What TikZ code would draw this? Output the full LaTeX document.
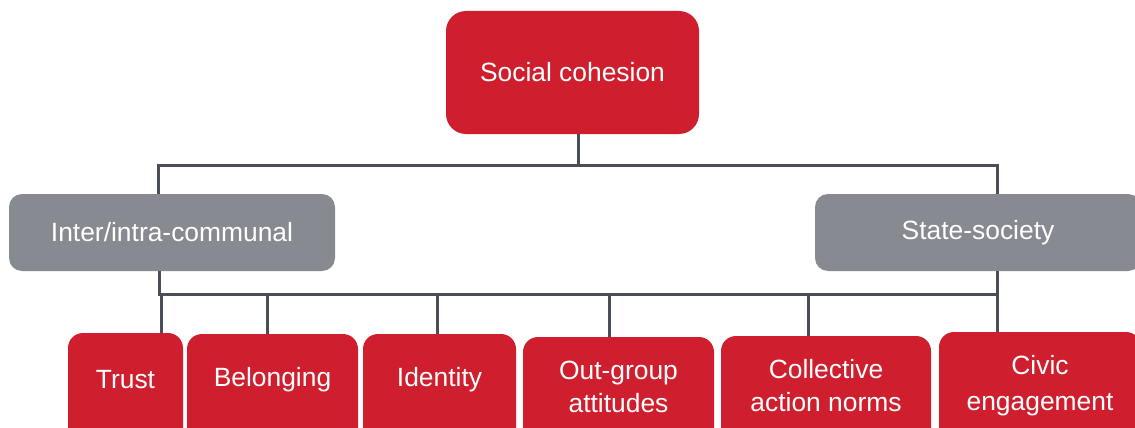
\documentclass[tikz,border=0pt]{standalone}
\usepackage{fontspec}
\setmainfont{Liberation Sans}
\definecolor{boxred}{HTML}{CF1E2D}
\definecolor{boxgray}{HTML}{878A90}
\definecolor{linegray}{HTML}{4A4F57}
\begin{document}
\begin{tikzpicture}[x=1pt,y=-1pt,
  box/.style={inner sep=0pt, outer sep=0pt, text=white, align=center,
              font=\fontsize{26.4}{33}\selectfont},
  redbox/.style={box, fill=boxred, rounded corners=15pt},
  graybox/.style={box, fill=boxgray, rounded corners=13pt},
  lowbox/.style={redbox, anchor=north, minimum height=115pt},
  caption/.style={box},
  link/.style={draw=linegray, line width=3pt}]
\useasboundingbox (0,0) rectangle (1135,428);
\clip (0,0) rectangle (1135,428);

% top level
\node[redbox, rounded corners=20pt, minimum width=253pt, minimum height=123pt]
  (top) at (572.5,72.5) {Social cohesion};

% second level
\node[graybox, minimum width=326pt, minimum height=77pt] (inter) at (172,232.5) {Inter/intra-communal};
\node[graybox, minimum width=326pt, minimum height=77pt] (state) at (978,232.5) {State-society};

% third level: boxes run past the lower edge
\node[lowbox, minimum width=115pt] (trust)  at (125.5,333) {};
\node[lowbox, minimum width=171pt] (belong) at (272.5,334) {};
\node[lowbox, minimum width=153pt] (ident)  at (439.5,334) {};
\node[lowbox, minimum width=191pt] (outg)   at (618.5,337) {};
\node[lowbox, minimum width=210pt] (coll)   at (826,336)   {};
\node[lowbox, minimum width=202pt] (civic)  at (1040,332)  {};

\node[caption] (trust-t)  at (125.5,380)  {Trust};
\node[caption] (belong-t) at (272.5,380)  {Belonging};
\node[caption] (ident-t)  at (439.5,380)  {Identity};
\node[caption] (outg-t)   at (618.5,387)  {Out-group\\attitudes};
\node[caption] (coll-t)   at (826,386)    {Collective\\action norms};
\node[caption] (civic-t)  at (1040,386) {Civic\\[3pt]engagement};

% upper connector
\coordinate (hubA) at (578,165);
\coordinate (hubL) at (158.5,165);
\coordinate (hubR) at (997.5,165);
\draw[link] (top.south -| hubA) -- (hubA);
\draw[link] (hubL |- inter.north) -- (hubL) -- (hubR) -- (hubR |- state.north);

% lower connector
\coordinate (barL) at (159.5,294);
\coordinate (barR) at (997.5,294);
\draw[link] (barL |- inter.south) -- (barL) -- (barR) -- (barR |- state.south);
\foreach \n/\x in {trust/161, belong/267, ident/437, outg/609, coll/808, civic/997.5}{
  \coordinate (drop-\n) at (\x,294);
  \draw[link] (drop-\n) -- (drop-\n |- \n.north);
}
\end{tikzpicture}
\end{document}
